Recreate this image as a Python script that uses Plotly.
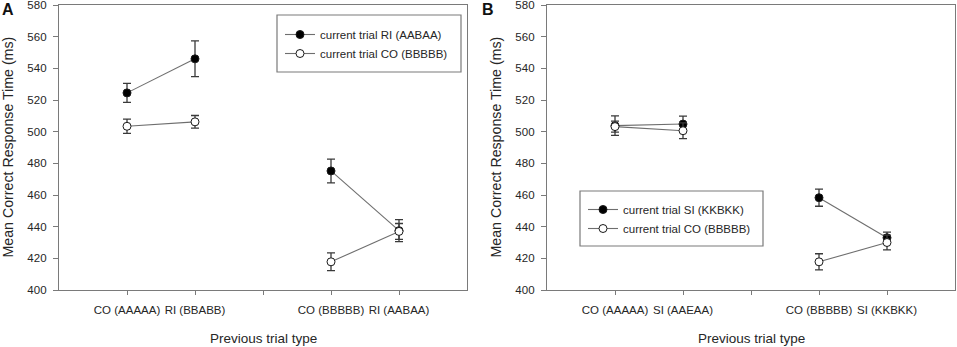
import plotly.graph_objects as go

# ---- data ----
x_pos = [1, 2, 4, 5]
tick_vals = [1, 2, 3, 4, 5]
ticks_A = ["CO (AAAAA)", "RI (BBABB)", "", "CO (BBBBB)", "RI (AABAA)"]
ticks_B = ["CO (AAAAA)", "SI (AAEAA)", "", "CO (BBBBB)", "SI (KKBKK)"]
y_ticks = [400, 420, 440, 460, 480, 500, 520, 540, 560, 580]

A_ri = [524.5, 546.0, 475.2, 437.5]
A_ri_err = [6.0, 11.3, 7.5, 7.0]
A_co = [503.4, 506.2, 417.8, 437.0]
A_co_err = [4.5, 4.0, 5.6, 5.0]

B_si = [503.8, 504.8, 458.3, 433.0]
B_si_err = [6.2, 5.0, 5.4, 3.6]
B_co = [503.2, 500.6, 417.8, 430.0]
B_co_err = [3.5, 5.0, 5.1, 4.6]

legend_A = ["current trial RI (AABAA)", "current trial CO (BBBBB)"]
legend_B = ["current trial SI (KKBKK)", "current trial CO (BBBBB)"]

W, H = 957, 347
FONT = "Liberation Sans, Arial, sans-serif"
LINE = "#6e6e6e"
AX = "#7a7a7a"
ERR = "#3a3a3a"
TXT = "#262626"


def px_x(p):
    return p / W


def px_y(p):
    return 1 - p / H


def with_gap(vals):
    # break the line between the two condition pairs
    return list(vals[:2]) + [None] + list(vals[2:])


fig = go.Figure()


def add_series(x, y, e, name, filled, xa, ya, leg):
    fig.add_trace(go.Scatter(
        x=with_gap(x), y=with_gap(y), name=name, mode="lines+markers",
        xaxis=xa, yaxis=ya, legend=leg, connectgaps=False,
        line=dict(color=LINE, width=1.1),
        marker=dict(size=8, color="black" if filled else "white",
                    line=dict(color="#1a1a1a", width=1)),
        error_y=dict(type="data", array=with_gap(e), visible=True,
                     color=ERR, thickness=1.3, width=4),
    ))


add_series(x_pos, A_ri, A_ri_err, legend_A[0], True, "x", "y", "legend")
add_series(x_pos, A_co, A_co_err, legend_A[1], False, "x", "y", "legend")
add_series(x_pos, B_si, B_si_err, legend_B[0], True, "x2", "y2", "legend2")
add_series(x_pos, B_co, B_co_err, legend_B[1], False, "x2", "y2", "legend2")

xcommon = dict(range=[0, 6], tickmode="array", tickvals=tick_vals,
               showline=True, linecolor=AX, linewidth=1.3, mirror=True,
               ticks="outside", ticklen=4, tickcolor=AX, tickwidth=1.2,
               showgrid=False, zeroline=False, automargin=False,
               ticklabeloverflow="allow", ticklabelstandoff=5,
               tickfont=dict(family=FONT, size=11.5, color=TXT))
ycommon = dict(range=[400, 580], tickmode="array", tickvals=y_ticks,
               showline=True, linecolor=AX, linewidth=1.3, mirror=True,
               ticks="outside", ticklen=5, tickcolor=AX, tickwidth=1.2,
               showgrid=False, zeroline=False, automargin=False,
               ticklabeloverflow="allow", ticklabelstandoff=4,
               tickfont=dict(family=FONT, size=11.5, color=TXT))

yd = [px_y(290), px_y(5)]

fig.update_layout(
    width=W, height=H,
    margin=dict(l=0, r=0, t=0, b=0, autoexpand=False),
    paper_bgcolor="white", plot_bgcolor="white",
    font=dict(family=FONT, size=11, color=TXT),
    xaxis=dict(domain=[px_x(59), px_x(467)], ticktext=ticks_A, anchor="y", **xcommon),
    yaxis=dict(domain=yd, anchor="x", **ycommon),
    xaxis2=dict(domain=[px_x(547), px_x(955)], ticktext=ticks_B, anchor="y2", **xcommon),
    yaxis2=dict(domain=yd, anchor="x2", **ycommon),
    legend=dict(x=px_x(280), y=px_y(20), xanchor="left", yanchor="top",
                bgcolor="rgba(0,0,0,0)", borderwidth=0,
                font=dict(family=FONT, size=11.5, color=TXT), tracegroupgap=0),
    legend2=dict(x=px_x(583), y=px_y(195), xanchor="left", yanchor="top",
                 bgcolor="rgba(0,0,0,0)", borderwidth=0,
                 font=dict(family=FONT, size=11.5, color=TXT), tracegroupgap=0),
    showlegend=True,
)

# legend frames
fig.add_shape(type="rect", xref="paper", yref="paper",
              x0=px_x(277), x1=px_x(461), y0=px_y(72), y1=px_y(15),
              line=dict(color=AX, width=1.2))
fig.add_shape(type="rect", xref="paper", yref="paper",
              x0=px_x(580), x1=px_x(763), y0=px_y(246), y1=px_y(191),
              line=dict(color=AX, width=1.2))

ann = []
for xc in (7, 495):
    ann.append(dict(text="Mean Correct Response Time (ms)", x=px_x(xc), y=px_y(147.5),
                    xref="paper", yref="paper", showarrow=False, textangle=-90,
                    font=dict(family=FONT, size=14.2, color=TXT),
                    xanchor="center", yanchor="middle"))
for xc in (263, 751):
    ann.append(dict(text="Previous trial type", x=px_x(xc), y=px_y(338),
                    xref="paper", yref="paper", showarrow=False,
                    font=dict(family=FONT, size=13.5, color=TXT),
                    xanchor="center", yanchor="middle"))
for lab, xc in (("A", 8), ("B", 488)):
    ann.append(dict(text="<b>%s</b>" % lab, x=px_x(xc), y=px_y(9),
                    xref="paper", yref="paper", showarrow=False,
                    font=dict(family=FONT, size=16, color="#111"),
                    xanchor="center", yanchor="middle"))
fig.update_layout(annotations=ann)

fig.write_html("out.html", config={"displayModeBar": False})

# remove the default page margin so the figure sits at the window's corner
with open("out.html", "r", encoding="utf-8") as f:
    html = f.read()
html = html.replace("<head>", "<head><style>html,body{margin:0;padding:0;overflow:hidden}</style>", 1)
with open("out.html", "w", encoding="utf-8") as f:
    f.write(html)
